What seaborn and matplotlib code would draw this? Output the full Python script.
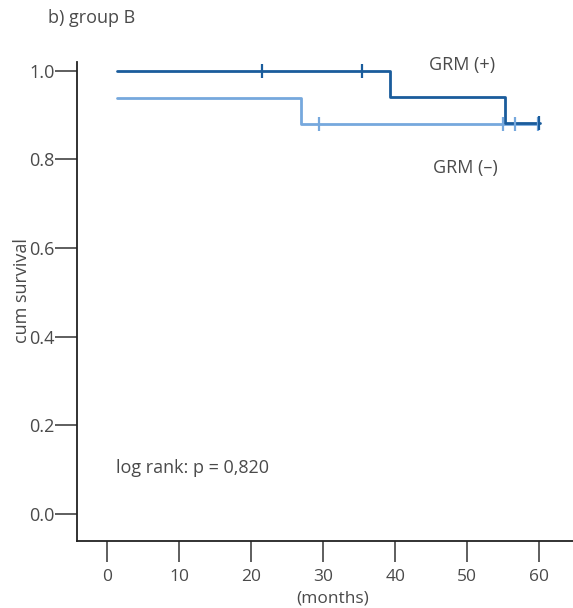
import numpy as np
import pandas as pd
import seaborn as sns
import matplotlib.pyplot as plt

# Kaplan-Meier curve values
pos_time = [1.4, 39.3, 55.3, 60.1]
pos_surv = [1.0, 0.941, 0.883, 0.883]
pos_cens_time = [21.5, 35.4, 60.0]
pos_cens_surv = [1.0, 1.0, 0.883]

neg_time = [1.4, 26.9, 59.9]
neg_surv = [0.939, 0.880, 0.880]
neg_cens_time = [29.4, 55.0, 56.7, 59.8]
neg_cens_surv = [0.880, 0.880, 0.880, 0.880]

x_ticks = [0, 10, 20, 30, 40, 50, 60]
y_ticks = [0.0, 0.2, 0.4, 0.6, 0.8, 1.0]

dark = "#1a5c9c"
light = "#76a8dd"
txt = "#4a4a4a"
fs = 13

sns.set_style("white")
plt.rcParams['font.family'] = ['Open Sans', 'DejaVu Sans']

fig = plt.figure(figsize=(5.73, 6.08), dpi=100)
ax = fig.add_axes([0.1344, 0.1102, 0.8656, 0.788])

pos = pd.DataFrame({"t": pos_time, "s": pos_surv})
neg = pd.DataFrame({"t": neg_time, "s": neg_surv})

sns.lineplot(data=neg, x="t", y="s", ax=ax, color=light, lw=2,
             drawstyle="steps-post", estimator=None, sort=False)
sns.lineplot(data=pos, x="t", y="s", ax=ax, color=dark, lw=2,
             drawstyle="steps-post", estimator=None, sort=False)

sns.scatterplot(x=neg_cens_time, y=neg_cens_surv, ax=ax, marker="|", s=90,
                color=light, linewidth=1.6, zorder=3)
sns.scatterplot(x=pos_cens_time, y=pos_cens_surv, ax=ax, marker="|", s=90,
                color=dark, linewidth=1.6, zorder=4)

ax.set_xlim(-4.2, 64.7)
ax.set_ylim(-0.061, 1.02)
ax.set_xticks(x_ticks)
ax.set_yticks(y_ticks)
ax.set_yticklabels([f"{v:.1f}" for v in y_ticks])

for s in ["top", "right"]:
    ax.spines[s].set_visible(False)
for s in ["left", "bottom"]:
    ax.spines[s].set_color("#222222")
    ax.spines[s].set_linewidth(1.3)

ax.tick_params(axis="x", direction="out", length=15, width=1.1, color="#333333",
               labelsize=12.5, labelcolor=txt, pad=5, bottom=True)
ax.tick_params(axis="y", direction="out", length=16, width=1.1, color="#333333",
               labelsize=fs, labelcolor=txt, pad=0, left=True)

ax.set_xlabel("(months)", fontsize=12.5, color=txt, va="center")
ax.xaxis.set_label_coords(0.516, -0.120)
ax.set_ylabel("cum survival", fontsize=fs, color=txt, va="center")
ax.yaxis.set_label_coords(-0.111, 0.522)

ax.text(44.7, 1.014, "GRM (+)", fontsize=fs, color=txt, va="center", ha="left")
ax.text(45.2, 0.781, "GRM (–)", fontsize=fs, color=txt, va="center", ha="left")
ax.text(1.2, 0.104, "log rank: p = 0,820", fontsize=fs, color=txt, va="center", ha="left")
fig.text(48 / 573, 1 - 18 / 608, "b) group B", fontsize=fs, color=txt, va="center", ha="left")

fig.savefig("out.png", dpi=100)
